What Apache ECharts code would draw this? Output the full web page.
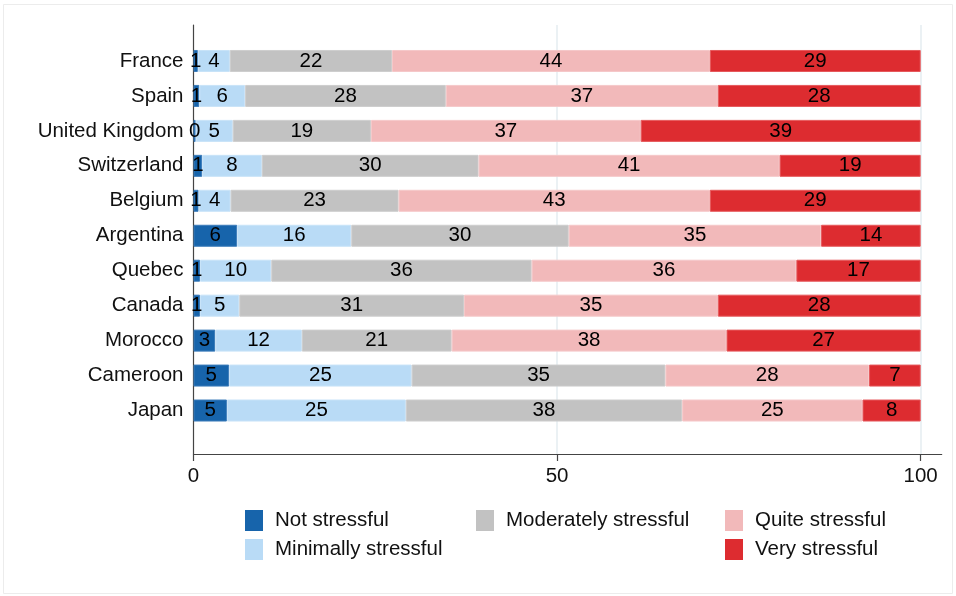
<!DOCTYPE html>
<html>
<head>
<meta charset="utf-8">
<title>Stress by country</title>
<script src="https://cdn.jsdelivr.net/npm/echarts@6/dist/echarts.min.js"></script>
<style>
  html, body { margin: 0; padding: 0; background: #ffffff; }
  #chart { width: 956px; height: 596px; }
</style>
</head>
<body>
<div id="chart"></div>
<script>
// Share of respondents (%) in each stress category, by country
const categories = ['France', 'Spain', 'United Kingdom', 'Switzerland', 'Belgium', 'Argentina',
  'Quebec', 'Canada', 'Morocco', 'Cameroon', 'Japan'];
const seriesNames = ['Not stressful', 'Minimally stressful', 'Moderately stressful',
  'Quite stressful', 'Very stressful'];
const notStressful = [0.6, 0.8, 0.3, 1.2, 0.7, 6.0, 0.9, 0.9, 3.0, 4.9, 4.6];
const minimallyStressful = [4.4, 6.3, 5.1, 8.2, 4.4, 15.7, 9.8, 5.4, 11.9, 25.1, 24.6];
const moderatelyStressful = [22.3, 27.6, 19.0, 29.8, 23.1, 29.9, 35.8, 30.9, 20.6, 34.9, 38.0];
const quiteStressful = [43.7, 37.4, 37.1, 41.4, 42.8, 34.7, 36.4, 34.9, 37.8, 28.0, 24.8];
const veryStressful = [29.0, 27.9, 38.5, 19.4, 29.0, 13.7, 17.1, 27.9, 26.7, 7.1, 8.0];
const xTicks = [0, 50, 100];
const gridLines = [50, 100];

const values = [notStressful, minimallyStressful, moderatelyStressful, quiteStressful, veryStressful];
const colors = ['#1764ab', '#b9dbf6', '#c2c2c2', '#f2b9ba', '#dd2c30'];
const edgeColors = ['#3c7cba', '#c8e3f8', '#cdcdcd', '#f5c8c9', '#e6585b'];

const FONT = "'Liberation Sans', Arial, sans-serif";
const FS = 20.5;
const TXT = '#111111';

const chart = echarts.init(document.getElementById('chart'), null, { renderer: 'canvas' });

const barSeries = seriesNames.map((name, i) => ({
  name: name,
  type: 'bar',
  stack: 'total',
  xAxisIndex: 1,
  yAxisIndex: 1,
  barWidth: 22,
  z: 3,
  itemStyle: { color: colors[i], borderColor: edgeColors[i], borderWidth: 1 },
  emphasis: { disabled: true },
  label: {
    show: true,
    position: 'inside',
    color: '#000000',
    fontFamily: FONT,
    fontSize: FS,
    formatter: p => String(Math.round(p.value))
  },
  data: values[i]
}));

const legendBase = {
  orient: 'vertical',
  top: 510,
  padding: 0,
  icon: 'rect',
  itemWidth: 18,
  itemHeight: 21,
  itemGap: 8,
  selectedMode: false,
  itemStyle: { borderWidth: 0 },
  textStyle: { fontFamily: FONT, fontSize: FS, color: TXT, padding: [2, 0, 0, 7] }
};

chart.setOption({
  animation: false,
  backgroundColor: '#ffffff',
  textStyle: { fontFamily: FONT },
  graphic: [{
    type: 'rect',
    silent: true,
    shape: { x: 3.5, y: 4.5, width: 949, height: 589 },
    style: { fill: 'none', stroke: '#ececec', lineWidth: 1 }
  }],
  legend: [
    Object.assign({}, legendBase, { left: 245, data: [seriesNames[0], seriesNames[1]] }),
    Object.assign({}, legendBase, { left: 476, data: [seriesNames[2]] }),
    Object.assign({}, legendBase, { left: 725, data: [seriesNames[3], seriesNames[4]] })
  ],
  grid: [
    // frame with the axes
    { left: 193.5, top: 25, width: 748.2, height: 429, containLabel: false },
    // band area holding the bars
    { left: 193.5, top: 43.5, width: 727.2, height: 384.5, containLabel: false }
  ],
  xAxis: [
    {
      type: 'value',
      gridIndex: 0,
      min: 0,
      max: 102.9,
      interval: 50,
      axisLine: { show: true, lineStyle: { color: '#444444', width: 1.2 } },
      axisTick: { show: true, length: 7, customValues: xTicks, lineStyle: { color: '#444444', width: 1.2 } },
      axisLabel: { customValues: xTicks, fontFamily: FONT, fontSize: FS, color: TXT, margin: 12 },
      splitLine: { show: false }
    },
    {
      type: 'value',
      gridIndex: 1,
      min: 0,
      max: 100,
      show: false
    }
  ],
  yAxis: [
    {
      type: 'value',
      gridIndex: 0,
      min: 0,
      max: 1,
      axisLine: { show: true, onZero: false, lineStyle: { color: '#444444', width: 1.2 } },
      axisTick: { show: false },
      axisLabel: { show: false },
      splitLine: { show: false }
    },
    {
      type: 'category',
      gridIndex: 1,
      inverse: true,
      data: categories,
      axisLine: { show: false },
      axisTick: { show: false },
      axisLabel: { fontFamily: FONT, fontSize: FS, color: TXT, margin: 10 }
    }
  ],
  series: [
    {
      name: 'grid',
      type: 'line',
      xAxisIndex: 0,
      yAxisIndex: 0,
      data: [],
      z: 1,
      markLine: {
        silent: true,
        z: 1,
        symbol: ['none', 'none'],
        animation: false,
        label: { show: false },
        lineStyle: { color: '#e4edf0', width: 1.5, type: 'solid' },
        data: gridLines.map(v => ({ xAxis: v }))
      }
    }
  ].concat(barSeries)
});
</script>
</body>
</html>
